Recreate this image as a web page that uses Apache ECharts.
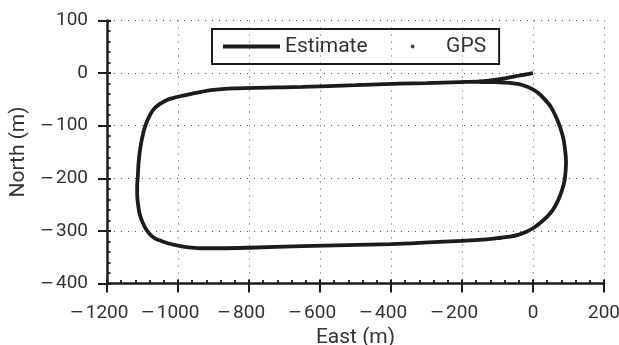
<!DOCTYPE html>
<html>
<head>
<meta charset="utf-8">
<title>Vehicle track</title>
<script src="https://cdn.jsdelivr.net/npm/echarts@6/dist/echarts.min.js"></script>
<style>
  html, body { margin: 0; padding: 0; background: #fff; }
  #chart { width: 619px; height: 345px; }
</style>
</head>
<body>
<div id="chart"></div>
<script>
// Estimated trajectory, metres east / north of the start point
var estimateEast = [
  0, -40, -90, -150, -206, -300, -375, -500, -650, -845, -900, -938, -966, -994,
  -1012, -1031, -1052, -1070, -1083, -1093, -1101, -1107, -1111, -1113, -1115, -1115,
  -1113, -1108, -1099, -1086, -1070, -1052, -1031, -1000, -975, -938, -880, -800,
  -650, -400, -200, -130, -90, -65, -40, -17, 2, 20, 40, 56, 70, 82, 89,
  92, 93, 91, 86, 76, 64, 50, 33, 15, -3, -20, -40, -60, -85, -110, -150
];
var estimateNorth = [
  0, -5, -11, -16, -17, -19, -20, -23, -26, -29, -32, -36, -40, -44,
  -47, -51, -59, -70, -85, -102, -123, -146, -170, -194, -215, -230,
  -247, -268, -285, -301, -312, -318, -323, -328, -331, -333, -333, -332,
  -329, -325, -319, -316, -313, -311, -307, -301, -294, -285, -273, -260, -243, -222, -204,
  -185, -168, -150, -126, -102, -82, -64, -50, -38, -30, -25, -21, -19, -18, -17, -17
];
// GPS fixes (none plotted on top of the estimate)
var gpsEast = [];
var gpsNorth = [];

var seriesNames = ['Estimate', 'GPS'];
var eastTicks = { min: -1200, max: 200, step: 200 };
var northTicks = { min: -400, max: 100, step: 100 };

function pairs(xs, ys) {
  var out = [];
  for (var i = 0; i < xs.length; i++) out.push([xs[i], ys[i]]);
  return out;
}

var FONT = 'Roboto';
var FS = 21;      // legend and axis names
var TICK_FS = 19; // tick labels
var TEXT = '#333';
var INK = '#1c1c1c';

// Tick labels: a long minus sign set slightly apart from the digits
var labelRich = {
  m: { fontFamily: 'DejaVu Sans', fontSize: 17, color: TEXT, padding: [0, 2, 0, 0] },
  d: { fontFamily: FONT, fontSize: TICK_FS, color: TEXT },
  s: { fontFamily: FONT, fontSize: TICK_FS, width: 16 }
};
function yTickLabel(v) {
  return v < 0 ? '{m|\u2212}{d|' + (-v) + '}' : '{d|' + v + '}';
}
// x tick labels keep the digits centred on the tick, the sign hanging left
function xTickLabel(v) {
  return v < 0 ? '{m|\u2212}{d|' + (-v) + '}{s| }' : '{d|' + v + '}';
}

var chart = echarts.init(document.getElementById('chart'), null, { renderer: 'canvas' });

var gridLine = { show: true, lineStyle: { color: '#555', width: 1, type: [1, 6] } };

chart.setOption({
  animation: false,
  backgroundColor: '#fff',
  grid: { left: 107, right: 15, top: 20.5, bottom: 61.5, containLabel: false, outerBoundsMode: 'none' },
  legend: {
    left: 212, top: 29,
    padding: [7, 13, 7, 11],
    borderColor: INK, borderWidth: 2,
    itemWidth: 57, itemHeight: 4, itemGap: 43,
    textStyle: { fontFamily: FONT, fontSize: FS, color: TEXT },
    data: [
      { name: seriesNames[0], icon: 'rect' },
      { name: seriesNames[1], icon: 'circle' }
    ]
  },
  xAxis: [
    {
      type: 'value', min: eastTicks.min, max: eastTicks.max, interval: eastTicks.step,
      name: 'East (m)', nameLocation: 'middle', nameGap: 37,
      nameTextStyle: { fontFamily: FONT, fontSize: FS, color: TEXT },
      axisLine: { show: true, onZero: false, lineStyle: { color: INK, width: 2.5 } },
      axisTick: { show: true, inside: false, length: 9, lineStyle: { color: INK, width: 2 } },
      minorTick: { show: false },
      axisLabel: { margin: 20, formatter: xTickLabel, rich: labelRich,
        hideOverlap: false, showMinLabel: true, showMaxLabel: true },
      splitLine: gridLine
    },
    {
      type: 'value', min: eastTicks.min, max: eastTicks.max, interval: eastTicks.step,
      position: 'bottom',
      axisLine: { show: false, onZero: false },
      axisTick: { show: true, inside: true, length: 4, lineStyle: { color: INK, width: 2 } },
      minorTick: { show: true, splitNumber: 5, length: 3.5, lineStyle: { color: INK, width: 1.8 } },
      axisLabel: { show: false },
      splitLine: { show: false }
    }
  ],
  yAxis: [
    {
      type: 'value', min: northTicks.min, max: northTicks.max, interval: northTicks.step,
      name: 'North (m)', nameLocation: 'middle', nameGap: 77, nameRotate: 90,
      nameTextStyle: { fontFamily: FONT, fontSize: FS, color: TEXT },
      axisLine: { show: true, onZero: false, lineStyle: { color: INK, width: 2.5 } },
      axisTick: { show: true, inside: false, length: 9, lineStyle: { color: INK, width: 2 } },
      minorTick: { show: false },
      axisLabel: { margin: 19, formatter: yTickLabel, rich: labelRich,
        hideOverlap: false, showMinLabel: true, showMaxLabel: true },
      splitLine: gridLine
    },
    {
      type: 'value', min: northTicks.min, max: northTicks.max, interval: northTicks.step,
      position: 'left',
      axisLine: { show: false, onZero: false },
      axisTick: { show: true, inside: true, length: 4, lineStyle: { color: INK, width: 2 } },
      minorTick: { show: true, splitNumber: 5, length: 3.5, lineStyle: { color: INK, width: 1.8 } },
      axisLabel: { show: false },
      splitLine: { show: false }
    }
  ],
  series: [
    {
      name: seriesNames[0], type: 'line',
      data: pairs(estimateEast, estimateNorth),
      smooth: 0.3, showSymbol: false, symbol: 'none',
      lineStyle: { color: INK, width: 3.8 },
      itemStyle: { color: INK },
      z: 5
    },
    {
      name: seriesNames[1], type: 'scatter',
      data: pairs(gpsEast, gpsNorth),
      symbol: 'circle', symbolSize: 3,
      itemStyle: { color: INK },
      z: 4
    }
  ]
});
</script>
</body>
</html>
